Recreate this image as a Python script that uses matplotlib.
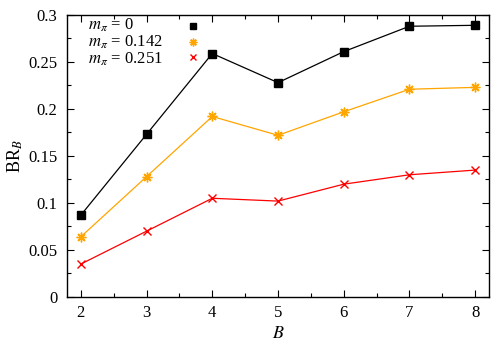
import numpy as np
import matplotlib
matplotlib.use('Agg')
import matplotlib.pyplot as plt
from matplotlib.ticker import MultipleLocator

plt.rcParams['font.family'] = ['Liberation Serif', 'DejaVu Serif']
plt.rcParams['mathtext.fontset'] = 'stix'

B = [2, 3, 4, 5, 6, 7, 8]
br_m0 = [0.087, 0.173, 0.259, 0.228, 0.261, 0.288, 0.289]
br_m142 = [0.064, 0.128, 0.192, 0.172, 0.197, 0.221, 0.223]
br_m251 = [0.035, 0.070, 0.105, 0.102, 0.120, 0.130, 0.135]
labels = [r'$m_\pi$ = 0', r'$m_\pi$ = 0.142', r'$m_\pi$ = 0.251']

fig = plt.figure(figsize=(4.98, 3.48), dpi=100)
ax = fig.add_axes([0.1345, 0.1466, 0.8475, 0.8104])

ax.plot(B, br_m0, color='black', lw=0.9)
ax.plot(B, br_m142, color='#ffa500', lw=0.9)
ax.plot(B, br_m251, color='#ff0000', lw=0.9)
h1, = ax.plot(B, br_m0, ls='none', marker='s', ms=5.5, color='black')
h2, = ax.plot(B, br_m142, ls='none', marker=(8, 2, 0), ms=7, mew=1.0, color='#ffa500')
h3, = ax.plot(B, br_m251, ls='none', marker='x', ms=6, mew=1.0, color='#ff0000')

ax.set_xlim(1.79, 8.21)
ax.set_ylim(0, 0.3)
ax.xaxis.set_major_locator(MultipleLocator(1))
ax.xaxis.set_minor_locator(MultipleLocator(0.5))
ax.set_yticks([0, 0.05, 0.1, 0.15, 0.2, 0.25, 0.3])
ax.set_yticklabels(['0', '0.05', '0.1', '0.15', '0.2', '0.25', '0.3'])
ax.yaxis.set_minor_locator(MultipleLocator(0.025))
ax.tick_params(which='both', direction='in', top=True, right=True, labelsize=12, width=0.8)
ax.tick_params(which='major', length=5)
ax.tick_params(which='minor', length=3)
ax.tick_params(axis='x', pad=6)
ax.tick_params(axis='y', pad=7)
for s in ax.spines.values():
    s.set_linewidth(1.0)

ax.set_xlabel(r'$B$', fontsize=13, labelpad=3)
ax.set_ylabel(r'BR$_B$', fontsize=13, labelpad=2)

# gnuplot-style key: left-aligned labels, markers to the right
row_y = [0.964, 0.904, 0.844]
for lab, y in zip(labels, row_y):
    ax.text(0.05, y, lab, transform=ax.transAxes, fontsize=12, ha='left', va='center')

ax.legend([h1, h2, h3], ['', '', ''], loc='center', bbox_to_anchor=(0.299, 0.902),
          frameon=False, fontsize=8, handlelength=1.0, handletextpad=0.0,
          handleheight=0.7, labelspacing=0.55, borderpad=0.2, markerscale=0.8)

fig.savefig('out.png', dpi=100)
